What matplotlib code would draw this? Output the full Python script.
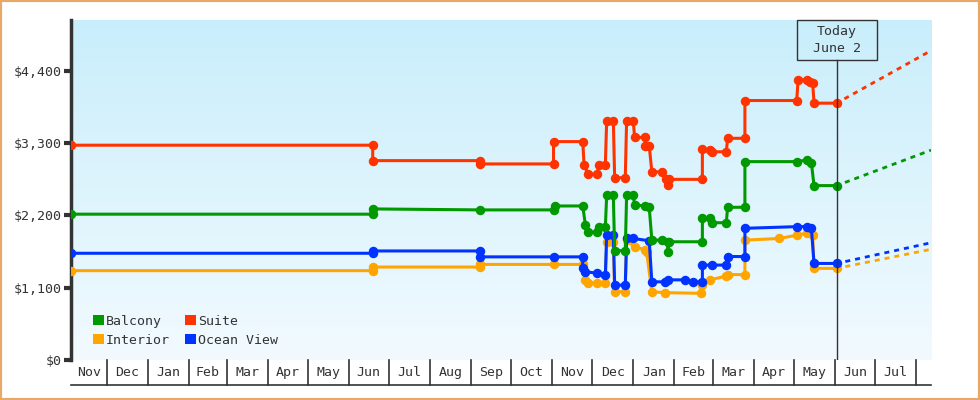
import numpy as np
import matplotlib
matplotlib.use('Agg')
import matplotlib.pyplot as plt
import matplotlib.dates as mdates
import matplotlib.transforms as mtransforms
from matplotlib.patches import Rectangle, Patch

START = np.datetime64('2022-11-04')
END_DAY = 647
TODAY_DAY = 576

# day offsets from START, prices in $
suite_days = [0, 227, 227, 308, 308, 363, 363, 385, 386, 389, 396, 397, 402, 403, 408, 409, 417, 418, 423, 424,
              432, 432, 435, 437, 445, 448, 449, 450, 475, 475, 481, 482, 493, 494, 507, 507, 546, 547, 554, 556,
              558, 559, 576]
suite_price = [3270, 3270, 3035, 3035, 2985, 2985, 3325, 3325, 2970, 2830, 2830, 2970, 2970, 3645, 3645, 2775, 2775, 3645, 3645, 3390,
               3390, 3260, 3260, 2865, 2865, 2750, 2660, 2750, 2750, 3205, 3190, 3170, 3170, 3375, 3375, 3950, 3950, 4265, 4265, 4225,
               4210, 3910, 3910]

balcony_days = [0, 227, 227, 308, 363, 364, 385, 387, 389, 396, 397, 402, 403, 408, 409, 417, 418, 423, 424, 432,
                435, 437, 445, 449, 449, 450, 475, 475, 481, 482, 493, 494, 507, 507, 546, 554, 557, 559, 576]
balcony_price = [2220, 2220, 2300, 2285, 2285, 2345, 2345, 2055, 1945, 1945, 2020, 2020, 2510, 2510, 1665, 1665, 2510, 2510, 2360, 2345,
                 2325, 1825, 1825, 1800, 1650, 1800, 1800, 2155, 2155, 2090, 2090, 2325, 2325, 3020, 3020, 3045, 3005, 2655, 2655]

ocean_days = [0, 227, 227, 308, 308, 363, 385, 385, 387, 396, 402, 403, 408, 409, 417, 418, 423, 435, 437, 447,
              449, 462, 468, 475, 475, 482, 493, 494, 507, 507, 546, 554, 557, 559, 576]
ocean_price = [1625, 1625, 1660, 1660, 1570, 1570, 1570, 1395, 1345, 1320, 1295, 1905, 1905, 1140, 1140, 1850, 1850, 1815, 1190, 1190,
               1220, 1220, 1190, 1190, 1445, 1445, 1445, 1575, 1575, 2005, 2030, 2030, 2005, 1470, 1470]

interior_days = [0, 227, 227, 308, 308, 363, 385, 387, 389, 396, 402, 403, 408, 409, 417, 418, 424, 432, 433, 437,
                 447, 474, 475, 481, 493, 494, 507, 507, 533, 546, 554, 558, 559, 576]
interior_price = [1360, 1360, 1415, 1415, 1455, 1455, 1455, 1220, 1175, 1165, 1165, 1800, 1800, 1040, 1040, 1825, 1725, 1675, 1650, 1040,
                  1025, 1015, 1140, 1220, 1280, 1300, 1300, 1825, 1850, 1900, 1930, 1900, 1395, 1395]

# projected price at the right edge of the chart
forecast_end = {'Suite': 4710, 'Balcony': 3195, 'Ocean View': 1785, 'Interior': 1685}

y_ticks = [0, 1100, 2200, 3300, 4400]
Y_TOP = 5176

colors = {'Balcony': '#009900', 'Suite': '#ff3300', 'Interior': '#ffa500', 'Ocean View': '#0033ff'}
FONT = 'DejaVu Sans Mono'
INK = '#333333'


def to_dates(days):
    return START + np.array(days, dtype='timedelta64[D]')


fig = plt.figure(figsize=(9.8, 4.0), dpi=100)
fig.patch.set_facecolor('white')
ax = fig.add_axes([71 / 980, 40 / 400, 860 / 980, 340 / 400])

# background gradient
grad = np.linspace(0, 1, 256).reshape(-1, 1)
top_c = np.array([0xc9, 0xee, 0xfb]) / 255
bot_c = np.array([0xf2, 0xfa, 0xff]) / 255
img = top_c[None, None, :] * (1 - grad[:, :, None]) + bot_c[None, None, :] * grad[:, :, None]
ax.imshow(img, extent=(0, 1, 0, 1), transform=ax.transAxes, aspect='auto', zorder=0)

x_start = mdates.date2num(START)
x_end = mdates.date2num(START + np.timedelta64(END_DAY, 'D'))
today = START + np.timedelta64(TODAY_DAY, 'D')
x_today = mdates.date2num(today)

series = [('Interior', interior_days, interior_price),
          ('Ocean View', ocean_days, ocean_price),
          ('Balcony', balcony_days, balcony_price),
          ('Suite', suite_days, suite_price)]

for i, (name, days, price) in enumerate(series):
    c = colors[name]
    ax.plot(to_dates(days), price, color=c, lw=2.2, marker='o', ms=5.8, mec=c, mfc=c,
            zorder=3 + i, solid_joinstyle='miter')
    ax.plot(to_dates([TODAY_DAY, END_DAY]), [price[-1], forecast_end[name]], color=c, lw=2.0,
            ls=(4, (1.8, 1.8)), zorder=3 + i)

ax.set_xlim(x_start, x_end)
ax.set_ylim(0, Y_TOP)
ax.set_autoscale_on(False)

# y axis
ax.set_yticks(y_ticks)
ax.set_yticklabels(['${:,}'.format(v) for v in y_ticks], fontfamily=FONT, fontsize=9.5, color=INK)
ax.tick_params(axis='y', length=5, width=3, color=INK, pad=2)
ax.set_xticks([])
for s in ['top', 'right', 'bottom']:
    ax.spines[s].set_visible(False)
ax.spines['left'].set_linewidth(2.5)
ax.spines['left'].set_color(INK)

# month strip below the plot
trans = mtransforms.blended_transform_factory(ax.transData, ax.transAxes)
strip_h = 25 / 340
month_starts = np.arange(np.datetime64('2022-12'), np.datetime64('2024-09'), dtype='datetime64[M]')
bounds = [x_start] + [mdates.date2num(m.astype('datetime64[D]')) for m in month_starts] + [x_end]
labels = [(START.astype('datetime64[M]') + k).astype(object).strftime('%b') for k in range(len(bounds) - 1)]
for b in bounds[1:-1]:
    ax.plot([b, b], [0, -strip_h], transform=trans, color=INK, lw=1.2, clip_on=False)
ax.plot([0, 1], [-strip_h, -strip_h], transform=ax.transAxes, color=INK, lw=1.2, clip_on=False)
for k in range(len(bounds) - 1):
    a, b = bounds[k], bounds[k + 1]
    if b - a < 20:
        continue
    ax.text((a + b) / 2, -strip_h / 2, labels[k], transform=trans, ha='center', va='center',
            fontfamily=FONT, fontsize=9.5, color=INK)

# today marker
box_bottom = (340 - 40) / 340
ax.plot([x_today, x_today], [0, box_bottom], transform=trans, color=INK, lw=1, zorder=10)
xpix = ax.transData.transform((x_today, 0))[0]
fig.add_artist(Rectangle(((xpix - 40) / 980, 340 / 400), 80 / 980, 40 / 400, transform=fig.transFigure,
                         fill=False, edgecolor=INK, lw=1))
fig.text(xpix / 980, 360 / 400, 'Today\nJune 2', ha='center', va='center', fontfamily=FONT,
         fontsize=9.5, color=INK, linespacing=1.35)

# legend
order = ['Balcony', 'Interior', 'Suite', 'Ocean View']
handles = [Patch(facecolor=colors[n], edgecolor='none', label=n) for n in order]
leg = ax.legend(handles=handles, ncol=2, loc='lower left', bbox_to_anchor=(0.018, 0.02),
                frameon=False, handlelength=0.8, handleheight=0.8, handletextpad=0.15,
                columnspacing=1.2, labelspacing=0.45, borderpad=0,
                prop={'family': FONT, 'size': 9.5})
for t in leg.get_texts():
    t.set_color(INK)

# outer border
fig.add_artist(Rectangle((0, 0), 1, 1, transform=fig.transFigure, fill=False, edgecolor='#e8a868', lw=3))

fig.savefig('out.png', dpi=100)
